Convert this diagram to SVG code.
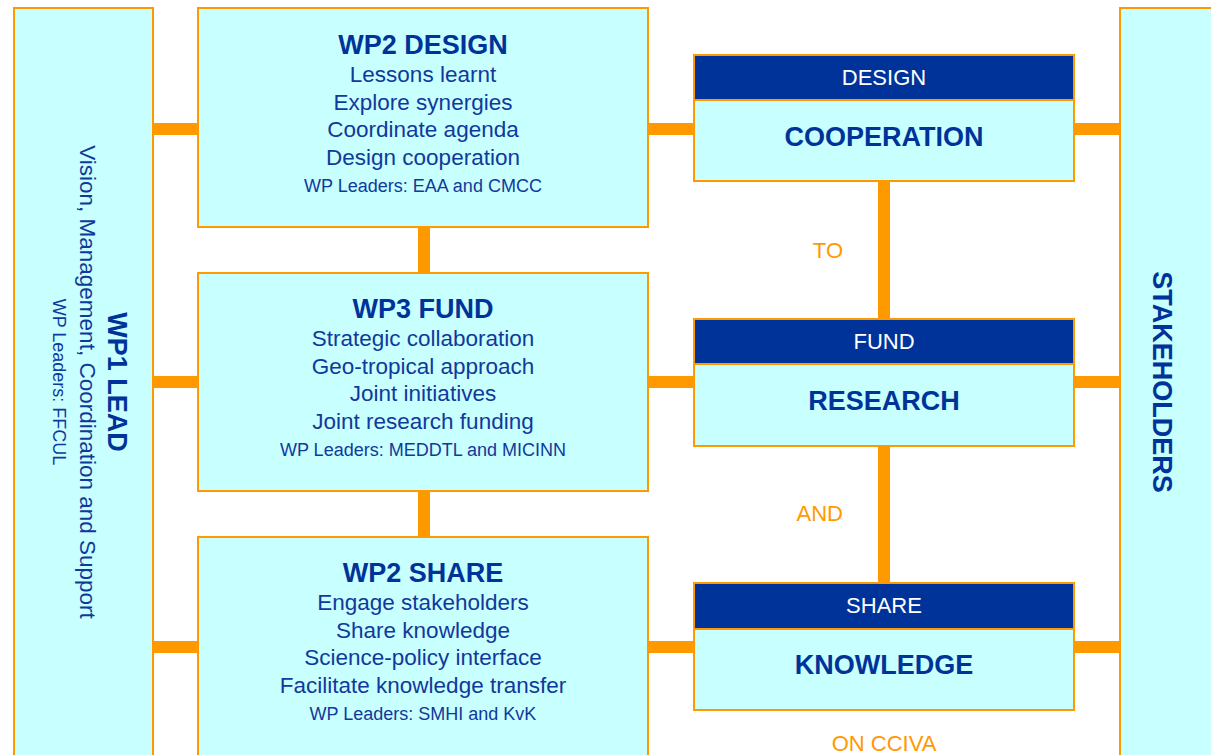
<svg xmlns="http://www.w3.org/2000/svg" width="1211" height="755" viewBox="0 0 1211 755">
  <style>
    .box { fill: #C8FFFF; stroke: #FF9900; stroke-width: 2; }
    .head { fill: #003399; stroke: #FF9900; stroke-width: 2; }
    .link { stroke: #FF9900; stroke-width: 12; fill: none; }
    text { font-family: "Liberation Sans", Arial, Helvetica, sans-serif; }
    .title { font-size: 27px; font-weight: bold; fill: #003399; text-anchor: middle; }
    .body { font-size: 22.5px; fill: #11399B; text-anchor: middle; }
    .lead { font-size: 18px; fill: #11399B; text-anchor: middle; }
    .htext { font-size: 22px; fill: #FFFFFF; text-anchor: middle; }
    .btext { font-size: 27px; font-weight: bold; fill: #003399; text-anchor: middle; }
    .glue { font-size: 22px; fill: #FF9900; }
  </style>

  <!-- connectors -->
  <g id="connectors">
    <!-- WP1 to work packages -->
    <line class="link" x1="153" y1="129" x2="198" y2="129"/>
    <line class="link" x1="153" y1="382" x2="198" y2="382"/>
    <line class="link" x1="153" y1="647" x2="198" y2="647"/>
    <!-- work package chain -->
    <line class="link" x1="424" y1="227" x2="424" y2="273"/>
    <line class="link" x1="424" y1="491" x2="424" y2="537"/>
    <!-- work packages to outcomes -->
    <line class="link" x1="648" y1="129" x2="694" y2="129"/>
    <line class="link" x1="648" y1="382" x2="694" y2="382"/>
    <line class="link" x1="648" y1="647" x2="694" y2="647"/>
    <!-- outcome chain -->
    <line class="link" x1="884" y1="181" x2="884" y2="319"/>
    <line class="link" x1="884" y1="446" x2="884" y2="583"/>
    <!-- outcomes to stakeholders -->
    <line class="link" x1="1074" y1="129" x2="1120" y2="129"/>
    <line class="link" x1="1074" y1="382" x2="1120" y2="382"/>
    <line class="link" x1="1074" y1="647" x2="1120" y2="647"/>
  </g>

  <!-- WP1 lead column -->
  <g id="wp1">
    <rect class="box" x="14" y="8" width="139" height="760"/>
    <text class="title" transform="translate(108,382) rotate(90)">WP1 LEAD</text>
    <text class="body" font-size="23" transform="translate(80,382) rotate(90)">Vision, Management, Coordination and Support</text>
    <text class="lead" transform="translate(53,382) rotate(90)">WP Leaders: FFCUL</text>
  </g>

  <!-- WP2 design -->
  <g id="wp2-design">
    <rect class="box" x="198" y="8" width="450" height="219"/>
    <text class="title" x="423" y="54">WP2 DESIGN</text>
    <text class="body" x="423" y="82">Lessons learnt</text>
    <text class="body" x="423" y="109.5">Explore synergies</text>
    <text class="body" x="423" y="137">Coordinate agenda</text>
    <text class="body" x="423" y="164.5">Design cooperation</text>
    <text class="lead" x="423" y="192">WP Leaders: EAA and CMCC</text>
  </g>

  <!-- WP3 fund -->
  <g id="wp3-fund">
    <rect class="box" x="198" y="273" width="450" height="218"/>
    <text class="title" x="423" y="318">WP3 FUND</text>
    <text class="body" x="423" y="346">Strategic collaboration</text>
    <text class="body" x="423" y="373.5">Geo-tropical approach</text>
    <text class="body" x="423" y="401">Joint initiatives</text>
    <text class="body" x="423" y="428.5">Joint research funding</text>
    <text class="lead" x="423" y="456">WP Leaders: MEDDTL and MICINN</text>
  </g>

  <!-- WP2 share -->
  <g id="wp2-share">
    <rect class="box" x="198" y="537" width="450" height="230"/>
    <text class="title" x="423" y="582">WP2 SHARE</text>
    <text class="body" x="423" y="610">Engage stakeholders</text>
    <text class="body" x="423" y="637.5">Share knowledge</text>
    <text class="body" x="423" y="665">Science-policy interface</text>
    <text class="body" x="423" y="692.5">Facilitate knowledge transfer</text>
    <text class="lead" x="423" y="720">WP Leaders: SMHI and KvK</text>
  </g>

  <!-- outcome: design cooperation -->
  <g id="cooperation">
    <rect class="box" x="694" y="100" width="380" height="81"/>
    <rect class="head" x="694" y="55" width="380" height="45"/>
    <text class="htext" x="884" y="85">DESIGN</text>
    <text class="btext" x="884" y="146">COOPERATION</text>
  </g>

  <!-- outcome: fund research -->
  <g id="research">
    <rect class="box" x="694" y="364" width="380" height="82"/>
    <rect class="head" x="694" y="319" width="380" height="45"/>
    <text class="htext" x="884" y="349">FUND</text>
    <text class="btext" x="884" y="410">RESEARCH</text>
  </g>

  <!-- outcome: share knowledge -->
  <g id="knowledge">
    <rect class="box" x="694" y="629" width="380" height="81"/>
    <rect class="head" x="694" y="583" width="380" height="46"/>
    <text class="htext" x="884" y="613">SHARE</text>
    <text class="btext" x="884" y="674">KNOWLEDGE</text>
  </g>

  <!-- linking words between outcomes -->
  <g id="phrase">
    <text class="glue" x="843" y="258" text-anchor="end">TO</text>
    <text class="glue" x="843" y="521" text-anchor="end">AND</text>
    <text class="glue" x="884" y="751" text-anchor="middle">ON CCIVA</text>
  </g>

  <!-- stakeholders column -->
  <g id="stakeholders">
    <rect class="box" x="1120" y="8" width="100" height="760"/>
    <text class="title" transform="translate(1153,382) rotate(90)">STAKEHOLDERS</text>
  </g>
</svg>
